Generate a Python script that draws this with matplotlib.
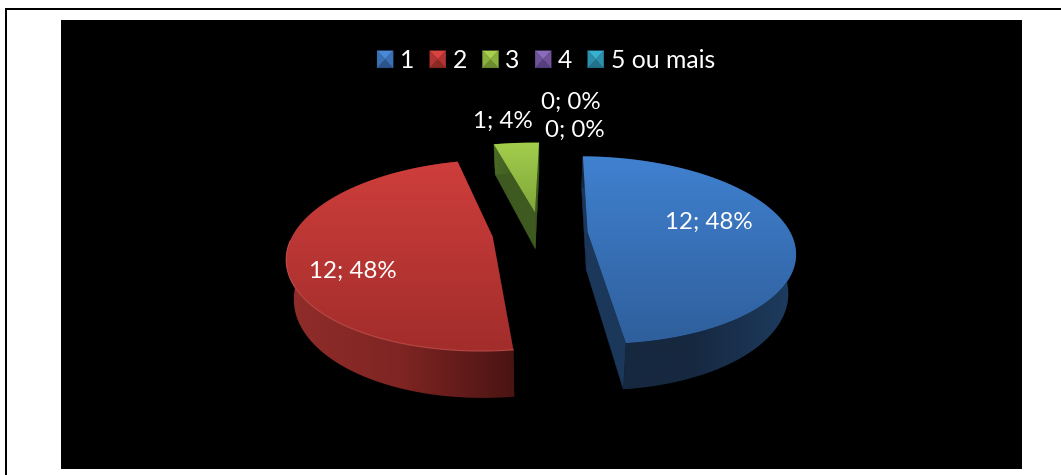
import numpy as np
import matplotlib
matplotlib.use("Agg")
import matplotlib.pyplot as plt
from matplotlib.patches import Polygon, Rectangle
from matplotlib.colors import LinearSegmentedColormap as LSC
from matplotlib.legend_handler import HandlerBase

# data
categories = ["1", "2", "3", "4", "5 ou mais"]
values = [12, 12, 1, 0, 0]
percents = [48, 48, 4, 0, 0]

# style
W, H = 1061, 475
top_cols = [("#4081D0", "#2F5F9C"), ("#CE3E3C", "#A22D2B"), ("#A2CE4C", "#7FA63A"), ("#7A5BA8", "#5F4686"), ("#2E9AB8", "#237A93")]
wall_cols = [("#16283F", "#16283F", "#1E3C60"), ("#902D2A", "#7F2523", "#4A1412"), ("#4A6A25", "#3F5A20", "#3F5A20"), ("#4A3666",) * 3, ("#1B5A6E",) * 3]
cut_cols = ["#1B375A", "#4A1412", "#3F5A20", "#4A3666", "#1B5A6E"]
label_xy = [(709, 222), (353, 271), (503, 121), (571, 102), (575, 130)]
explode_by_slice = [0.235, 0.235, 0.235, 0, 0]
rotate_by_slice = [0, -1.2, 0, 0, 0]
radius_x_by_slice = [1, 0.98, 1.1, 1, 1]

cx, cy, Rx, Ry, k, depth, start, taper = 540, 233, 203, 90.7, 0.193, 37.5, 1.0, 0.03

plt.rcParams["font.family"] = ["Lato", "DejaVu Sans"]
fig = plt.figure(figsize=(W / 100, H / 100), dpi=100, facecolor="white")
ax = fig.add_axes([0, 0, 1, 1])
ax.axis("off")

ax.add_patch(Rectangle((61, 20), 961, 449, fc="black", ec="none", zorder=0))
ax.add_patch(Rectangle((5, 8), 1056, 2, fc="black", ec="none", zorder=0))
ax.add_patch(Rectangle((5, 8), 2, 467, fc="black", ec="none", zorder=0))


def project(x, y, z=0.0):
    w = 1 / (1 + k * y)
    return cx + Rx * x * w * (1 - taper * z), cy - Ry * y * w + depth * z * w


def gradient_fill(pts, colors, zorder, vertical=True):
    pts = np.asarray(pts)
    x0, y0 = pts.min(axis=0)
    x1, y1 = pts.max(axis=0)
    cmap = LSC.from_list("g", list(colors))
    g = np.linspace(0, 1, 256)
    arr = g[:, None] if vertical else g[None, :]
    im = ax.imshow(arr, cmap=cmap, vmin=0, vmax=1, extent=(x0, x1, y1, y0), origin="upper",
                   aspect="auto", zorder=zorder, interpolation="bilinear")
    clip = Polygon(pts, closed=True, fc="none", ec="none", transform=ax.transData)
    ax.add_patch(clip)
    im.set_clip_path(clip)


total = sum(values)
angle = start
slices = []
for i, v in enumerate(values):
    span = 360.0 * v / total
    a0, a1 = angle, angle + span
    angle = a1
    if v == 0:
        continue
    mid = np.radians((a0 + a1) / 2)
    ex, ey = explode_by_slice[i] * np.sin(mid), explode_by_slice[i] * np.cos(mid)
    th = np.radians(np.linspace(a0, a1, 200) + rotate_by_slice[i])
    slices.append((i, ex, ey, ex + radius_x_by_slice[i] * np.sin(th), ey + np.cos(th)))

for i, ex, ey, ax_x, ax_y in slices:
    top_arc = np.column_stack(project(ax_x, ax_y, 0))
    bot_arc = np.column_stack(project(ax_x, ax_y, 1))
    apex_t = np.array(project(ex, ey, 0))
    apex_b = np.array(project(ex, ey, 1))
    for end in (0, -1):
        quad = [apex_t, top_arc[end], bot_arc[end], apex_b]
        ax.add_patch(Polygon(quad, fc=cut_cols[i], ec=cut_cols[i], lw=0.3, zorder=2))
    wall = np.vstack([top_arc, bot_arc[::-1]])
    gradient_fill(wall, wall_cols[i], 3, vertical=False)
    top = np.vstack([[apex_t], top_arc])
    gradient_fill(top, top_cols[i], 4, vertical=True)
    if i == 1:
        ax.plot(top_arc[:110, 0], top_arc[:110, 1], color="#C8524E", lw=0.8, zorder=5, alpha=0.8)

for v, p, (tx, ty) in zip(values, percents, label_xy):
    ax.text(tx, ty, f"{v}; {p}%", color="white", fontsize=17.4, ha="center", va="center", zorder=6)


class BevelHandler(HandlerBase):
    def create_artists(self, legend, orig, xd, yd, width, height, fontsize, trans):
        x0, y0 = -xd, -yd
        x1, y1 = x0 + width, y0 + height
        xm, ym = (x0 + x1) / 2, (y0 + y1) / 2
        light, mid, dark = orig
        out = []
        faces = [([(x0, y1), (x1, y1), (xm, ym)], light),
                 ([(x0, y0), (x1, y0), (xm, ym)], dark),
                 ([(x0, y0), (x0, y1), (xm, ym)], mid),
                 ([(x1, y0), (x1, y1), (xm, ym)], mid)]
        for pts, c in faces:
            out.append(Polygon(pts, fc=c, ec=c, lw=0.2, transform=trans))
        return out


legend_faces = [("#4A88D8", "#3A70B4", "#2C548A"), ("#D84440", "#B23432", "#8A2824"),
                ("#A8D04E", "#8AB03E", "#6C8C30"), ("#8A6CBC", "#6F5298", "#564080"),
                ("#38B0D0", "#2C8FAC", "#22728C")]
hm = {h: BevelHandler() for h in legend_faces}
leg = ax.legend(legend_faces, categories, handler_map=hm, ncols=5, frameon=False, fontsize=17.8,
                labelcolor="white", handlelength=0.65, handleheight=0.69, handletextpad=0.28,
                columnspacing=0.62, loc="center", bbox_to_anchor=(546 / W, 1 - 60.5 / H),
                bbox_transform=fig.transFigure, borderpad=0, borderaxespad=0)
leg.set_zorder(7)

ax.set_xlim(0, W)
ax.set_ylim(H, 0)
fig.savefig("out.png", dpi=100, facecolor="white")
